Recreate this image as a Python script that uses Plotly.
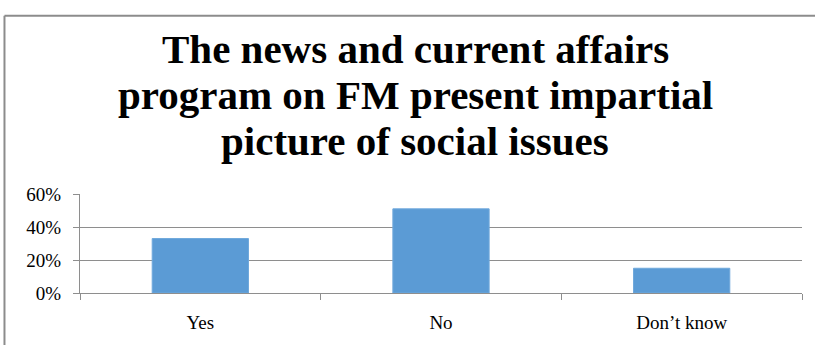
import plotly.graph_objects as go

categories = ["Yes", "No", "Don’t know"]
values = [0.33, 0.51, 0.15]
y_ticks = [0, 0.2, 0.4, 0.6]
y_tick_labels = ["0%", "20%", "40%", "60%"]
title_lines = ["The news and current affairs",
               "program on FM present impartial",
               "picture of social issues"]

fig = go.Figure(go.Bar(
    x=categories, y=values,
    marker=dict(color="#5b9bd5", line=dict(color="#6fa8dc", width=1)),
))

fig.update_layout(
    width=815, height=345,
    margin=dict(l=80, r=13, t=194, b=47),
    paper_bgcolor="white", plot_bgcolor="white",
    bargap=0.6,
    showlegend=False,
    font=dict(family="Liberation Serif", size=16, color="black"),
)

for i, line in enumerate(title_lines):
    fig.add_annotation(
        text="<b>" + line + "</b>",
        xref="paper", yref="paper", x=0.464, y=2.21 - i * 0.4615,
        xanchor="center", yanchor="bottom", showarrow=False,
        font=dict(family="Liberation Serif", size=41, color="black"),
    )

fig.update_yaxes(
    range=[0, 0.6], tickvals=y_ticks, ticktext=y_tick_labels,
    showgrid=True, gridcolor="#8e8e8e", gridwidth=1,
    showline=True, linecolor="#8e8e8e", linewidth=1,
    ticks="outside", ticklen=6, tickcolor="#8e8e8e",
    zeroline=False, fixedrange=True, ticklabelstandoff=8,
    tickfont=dict(family="Liberation Serif", size=19, color="black"),
)
fig.update_xaxes(
    showline=True, linecolor="#8e8e8e", linewidth=1,
    ticks="outside", ticklen=6, tickcolor="#8e8e8e", tickson="boundaries",
    tickfont=dict(family="Liberation Serif", size=19, color="black"),
    fixedrange=True, ticklabelstandoff=12,
)

# outer chart border (left and top edges visible)
fig.add_shape(type="line", xref="paper", yref="paper",
              x0=-0.1046, x1=1.05, y0=2.80, y1=2.80,
              line=dict(color="#8c8c8c", width=2))
fig.add_shape(type="line", xref="paper", yref="paper",
              x0=-0.1046, x1=-0.1046, y0=2.80, y1=-0.6,
              line=dict(color="#8c8c8c", width=2))

fig.write_html("out.html")
